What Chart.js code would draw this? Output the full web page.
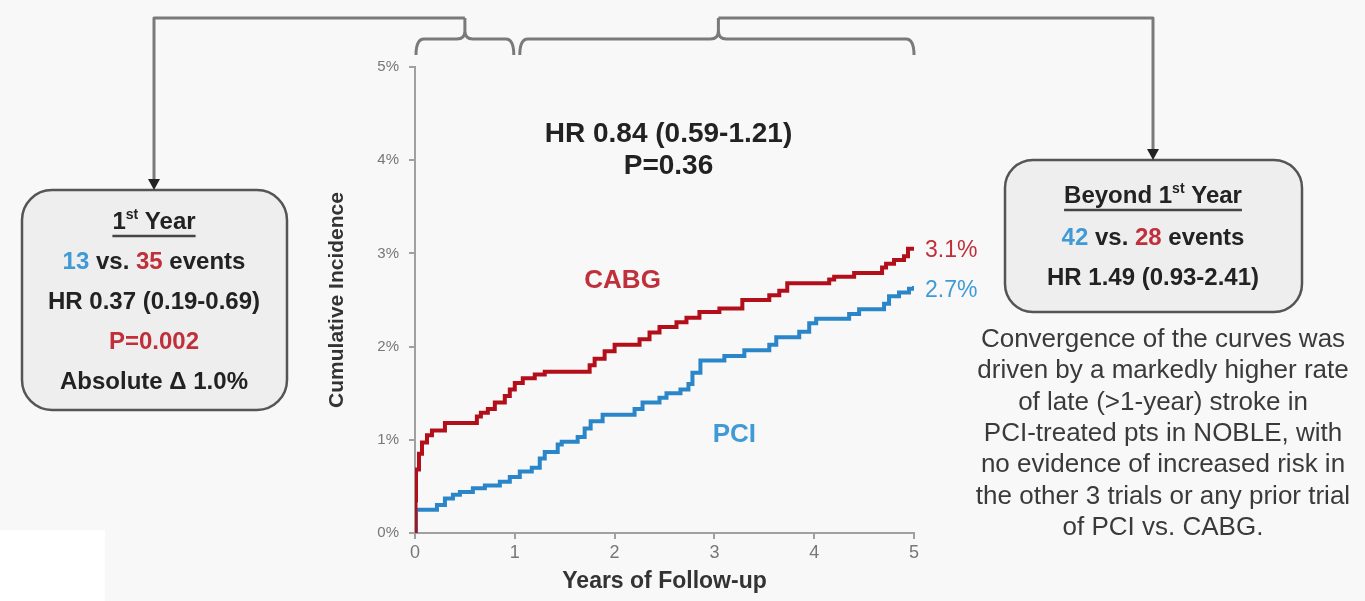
<!DOCTYPE html>
<html>
<head>
<meta charset="utf-8">
<script src="https://cdn.jsdelivr.net/npm/chart.js@4.4.1/dist/chart.umd.min.js"></script>
<style>
  html, body { margin: 0; padding: 0; background: #f8f8f8; }
  #wrap { position: relative; width: 1365px; height: 601px; }
</style>
</head>
<body>
<div id="wrap"><canvas id="km" width="1365" height="601"></canvas></div>
<script>
// Kaplan-Meier stroke curves (years, cumulative %)
const cabgYears = [0, 0.005, 0.01, 0.04, 0.07, 0.12, 0.17, 0.3, 0.62, 0.66, 0.73, 0.8, 0.9, 0.95, 1.0, 1.08, 1.2, 1.3, 1.75, 1.8, 1.9, 2.0, 2.25, 2.35, 2.45, 2.62, 2.72, 2.85, 3.05, 3.28, 3.55, 3.65, 3.73, 4.15, 4.2, 4.4, 4.68, 4.72, 4.8, 4.9, 4.94, 5.0];
const cabgPct   = [0, 0.35, 0.68, 0.85, 0.97, 1.05, 1.10, 1.18, 1.25, 1.29, 1.33, 1.40, 1.47, 1.54, 1.61, 1.66, 1.70, 1.73, 1.80, 1.87, 1.95, 2.02, 2.08, 2.15, 2.21, 2.26, 2.31, 2.37, 2.41, 2.50, 2.55, 2.60, 2.68, 2.72, 2.75, 2.79, 2.85, 2.89, 2.93, 2.97, 3.05, 3.07];
const pciYears  = [0, 0.01, 0.22, 0.3, 0.38, 0.45, 0.58, 0.7, 0.85, 0.95, 1.05, 1.17, 1.25, 1.3, 1.43, 1.47, 1.63, 1.7, 1.76, 1.88, 2.2, 2.28, 2.45, 2.52, 2.66, 2.74, 2.78, 2.86, 3.1, 3.3, 3.55, 3.62, 3.85, 3.95, 4.02, 4.35, 4.45, 4.7, 4.75, 4.85, 4.95, 5.0];
const pciPct    = [0, 0.25, 0.30, 0.37, 0.41, 0.44, 0.48, 0.51, 0.55, 0.60, 0.66, 0.70, 0.80, 0.87, 0.95, 0.98, 1.03, 1.12, 1.20, 1.27, 1.33, 1.40, 1.45, 1.50, 1.54, 1.60, 1.72, 1.85, 1.90, 1.96, 2.02, 2.10, 2.16, 2.25, 2.30, 2.35, 2.40, 2.46, 2.54, 2.58, 2.62, 2.65];

const seriesNames = ['CABG', 'PCI'];
const endLabels = ['3.1%', '2.7%'];
const xTicks = [0, 1, 2, 3, 4, 5];
const yTicks = [0, 1, 2, 3, 4, 5];

const RED = '#b30f1b';
const BLUE = '#2a86c8';
const RED_TXT = '#c0303a';
const BLUE_TXT = '#3f9ad6';
const FONT = '"Liberation Sans", Arial, sans-serif';

const toPoints = (xs, ys) => xs.map((x, i) => ({ x: x, y: ys[i] }));

// draw a line of mixed-colour text centred on cx
function richText(ctx, parts, cx, y, size, weight, underline) {
    let total = 0;
    parts.forEach(p => {
        ctx.font = `${weight} ${p.sup ? Math.round(size * 0.6) : size}px ${FONT}`;
        p.w = ctx.measureText(p.text).width;
        total += p.w;
    });
    let x = cx - total / 2;
    const x0 = x;
    ctx.textBaseline = 'middle';
    ctx.textAlign = 'left';
    parts.forEach(p => {
        ctx.font = `${weight} ${p.sup ? Math.round(size * 0.6) : size}px ${FONT}`;
        ctx.fillStyle = p.color || '#222';
        ctx.fillText(p.text, x, p.sup ? y - size * 0.3 : y);
        x += p.w;
    });
    if (underline) {
        ctx.strokeStyle = '#444';
        ctx.lineWidth = 2.5;
        ctx.beginPath();
        ctx.moveTo(x0, y + size * 0.58);
        ctx.lineTo(x0 + total, y + size * 0.58);
        ctx.stroke();
    }
}

function roundBox(ctx, x, y, w, h, r) {
    ctx.beginPath();
    ctx.roundRect(x, y, w, h, r);
    ctx.fillStyle = '#eeeeee';
    ctx.fill();
    ctx.lineWidth = 2.5;
    ctx.strokeStyle = '#555';
    ctx.stroke();
}

// curly brace spanning x1..x2 with its tip at xm
function brace(ctx, x1, x2, xm, y, yTop) {
    const r = 8;
    ctx.beginPath();
    ctx.moveTo(x1, y + 16);
    ctx.quadraticCurveTo(x1, y, x1 + r, y);
    ctx.lineTo(xm - r, y);
    ctx.quadraticCurveTo(xm, y, xm, y - r);
    ctx.lineTo(xm, yTop);
    ctx.moveTo(xm, y - r);
    ctx.quadraticCurveTo(xm, y, xm + r, y);
    ctx.lineTo(x2 - r, y);
    ctx.quadraticCurveTo(x2, y, x2, y + 16);
    ctx.stroke();
}

function arrowDown(ctx, x, yTip) {
    ctx.fillStyle = '#222';
    ctx.beginPath();
    ctx.moveTo(x - 6, yTip - 11);
    ctx.lineTo(x + 6, yTip - 11);
    ctx.lineTo(x, yTip);
    ctx.closePath();
    ctx.fill();
}

const background = {
    id: 'background',
    beforeDraw(chart) {
        const ctx = chart.ctx;
        ctx.save();
        ctx.fillStyle = '#f8f8f8';
        ctx.fillRect(0, 0, chart.width, chart.height);
        ctx.fillStyle = '#ffffff';
        ctx.fillRect(0, 530, 105, 71);
        ctx.restore();
    }
};

const decor = {
    id: 'decor',
    afterDraw(chart) {
        const ctx = chart.ctx;
        const xs = chart.scales.x, ys = chart.scales.y;
        const px = v => xs.getPixelForValue(v);
        const py = v => ys.getPixelForValue(v);
        ctx.save();

        // braces and connectors
        const topY = 18, braceY = 39;
        ctx.strokeStyle = '#7a7a7a';
        ctx.lineWidth = 3;
        ctx.lineJoin = 'round';
        const leftTip = (px(0) + px(1)) / 2;
        const rightTip = (px(1) + px(5)) / 2 + 4;
        brace(ctx, px(0) + 1, px(1) - 1, leftTip, braceY, topY);
        brace(ctx, px(1) + 5, px(5), rightTip, braceY, topY);

        const leftBoxX = 154, rightBoxX = 1153;
        ctx.beginPath();
        ctx.moveTo(leftTip, topY);
        ctx.lineTo(leftBoxX, topY);
        ctx.lineTo(leftBoxX, 180);
        ctx.moveTo(rightTip, topY);
        ctx.lineTo(rightBoxX, topY);
        ctx.lineTo(rightBoxX, 150);
        ctx.stroke();

        // boxes
        roundBox(ctx, 22, 190, 265, 220, 30);
        roundBox(ctx, 1005, 160, 297, 152, 28);
        arrowDown(ctx, leftBoxX, 190);
        arrowDown(ctx, rightBoxX, 160);

        const bs = 24;
        richText(ctx, [{ text: '1' }, { text: 'st', sup: true }, { text: ' Year' }], leftBoxX, 222, bs, 'bold', true);
        richText(ctx, [{ text: '13', color: BLUE_TXT }, { text: ' vs. ' }, { text: '35', color: RED_TXT }, { text: ' events' }], leftBoxX, 262, bs, 'bold');
        richText(ctx, [{ text: 'HR 0.37 (0.19-0.69)' }], leftBoxX, 302, bs, 'bold');
        richText(ctx, [{ text: 'P=0.002', color: RED_TXT }], leftBoxX, 342, bs, 'bold');
        richText(ctx, [{ text: 'Absolute \u0394 1.0%' }], leftBoxX, 382, bs, 'bold');

        richText(ctx, [{ text: 'Beyond 1' }, { text: 'st', sup: true }, { text: ' Year' }], rightBoxX, 196, bs, 'bold', true);
        richText(ctx, [{ text: '42', color: BLUE_TXT }, { text: ' vs. ' }, { text: '28', color: RED_TXT }, { text: ' events' }], rightBoxX, 238, bs, 'bold');
        richText(ctx, [{ text: 'HR 1.49 (0.93-2.41)' }], rightBoxX, 278, bs, 'bold');

        const para = [
            'Convergence of the curves was',
            'driven by a markedly higher rate',
            'of late (>1-year) stroke in',
            'PCI-treated pts in NOBLE, with',
            'no evidence of increased risk in',
            'the other 3 trials or any prior trial',
            'of PCI vs. CABG.'
        ];
        para.forEach((line, i) => {
            richText(ctx, [{ text: line, color: '#3a3a3a' }], 1163, 340 + i * 31.3, 26, 'normal');
        });

        // overall HR
        const midX = (px(0) + px(5)) / 2 + 4;
        richText(ctx, [{ text: 'HR 0.84 (0.59-1.21)' }], midX, 134, 28, 'bold');
        richText(ctx, [{ text: 'P=0.36' }], midX, 166, 28, 'bold');

        // series labels
        richText(ctx, [{ text: seriesNames[0], color: RED_TXT }], px(2.08), py(2.71), 26, 'bold');
        richText(ctx, [{ text: seriesNames[1], color: BLUE_TXT }], px(3.2), py(1.05), 26, 'bold');

        ctx.font = `23px ${FONT}`;
        ctx.textAlign = 'left';
        ctx.textBaseline = 'middle';
        ctx.fillStyle = RED_TXT;
        ctx.fillText(endLabels[0], px(5) + 11, py(cabgPct[cabgPct.length - 1]) + 4);
        ctx.fillStyle = BLUE_TXT;
        ctx.fillText(endLabels[1], px(5) + 11, py(pciPct[pciPct.length - 1]) + 5);

        ctx.restore();
    }
};

new Chart(document.getElementById('km'), {
    type: 'line',
    data: {
        datasets: [
            {
                label: seriesNames[0],
                data: toPoints(cabgYears, cabgPct),
                borderColor: RED,
                borderWidth: 4,
                stepped: 'before',
                pointRadius: 0,
                fill: false
            },
            {
                label: seriesNames[1],
                data: toPoints(pciYears, pciPct),
                borderColor: BLUE,
                borderWidth: 4,
                stepped: 'before',
                pointRadius: 0,
                fill: false
            }
        ]
    },
    options: {
        responsive: false,
        animation: false,
        devicePixelRatio: 1,
        layout: { padding: { left: 320, right: 451, top: 67, bottom: 6 } },
        plugins: { legend: { display: false }, tooltip: { enabled: false } },
        scales: {
            x: {
                type: 'linear',
                min: 0,
                max: 5,
                afterFit: s => { s.height = 62; },
                afterBuildTicks: s => { s.ticks = xTicks.map(v => ({ value: v })); },
                grid: { drawOnChartArea: false, drawTicks: true, tickLength: 6, color: '#a0a0a0', lineWidth: 2 },
                border: { color: '#a0a0a0', width: 2 },
                ticks: { color: '#777', font: { family: FONT, size: 18 }, padding: 3 },
                title: { display: true, text: 'Years of Follow-up', color: '#333', font: { family: FONT, size: 23, weight: 'bold' }, padding: { top: 0, bottom: 0 } }
            },
            y: {
                type: 'linear',
                min: 0,
                max: 5,
                afterFit: s => { s.width = 95; },
                afterBuildTicks: s => { s.ticks = yTicks.map(v => ({ value: v })); },
                grid: { drawOnChartArea: false, drawTicks: true, tickLength: 6, color: '#a0a0a0', lineWidth: 2 },
                border: { color: '#a0a0a0', width: 2 },
                ticks: { color: '#777', font: { family: FONT, size: 15 }, padding: 10, callback: v => v + '%' },
                title: { display: true, text: 'Cumulative Incidence', color: '#333', font: { family: FONT, size: 21, weight: 'bold' }, padding: { top: 5, bottom: 0 } }
            }
        }
    },
    plugins: [background, decor]
});
</script>
</body>
</html>
